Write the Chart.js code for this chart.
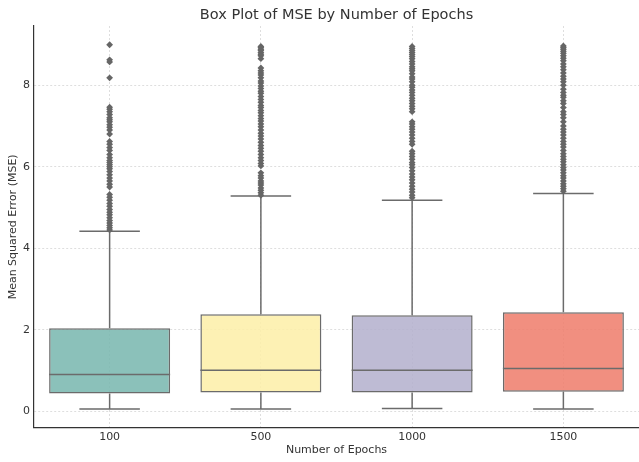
<!DOCTYPE html>
<html>
<head>
<meta charset="utf-8">
<script src="https://cdn.jsdelivr.net/npm/chart.js@4/dist/chart.umd.min.js"></script>
<style>
  html, body { margin: 0; padding: 0; background: #ffffff; overflow: hidden; }
  #wrap { width: 639px; height: 462px; overflow: hidden; }
  canvas { display: block; }
</style>
</head>
<body>
<div id="wrap"><canvas id="chart" width="643" height="462"></canvas></div>
<script>
// Box statistics per epoch setting
const categories = ['100', '500', '1000', '1500'];
const q1 = [0.44, 0.465, 0.465, 0.48];
const median = [0.905, 1.01, 1.01, 1.05];
const q3 = [2.04, 2.38, 2.36, 2.43];
const whiskerLow = [0.06, 0.06, 0.07, 0.06];
const whiskerHigh = [4.42, 5.28, 5.18, 5.34];
const yTicks = [0, 2, 4, 6, 8];

// Points beyond the upper whisker
const outliers100 = [8.99, 8.62, 8.57, 8.18, 7.46, 7.41, 7.35, 7.28, 7.2, 7.15, 7.1, 7.03, 6.97, 6.9,
  6.8, 6.62, 6.55, 6.47, 6.4, 6.3, 6.22, 6.15, 6.1, 6.05, 6.0, 5.95, 5.88, 5.8, 5.72, 5.65, 5.57,
  5.5, 5.32, 5.25, 5.18, 5.1, 5.03, 4.95, 4.88, 4.82, 4.75, 4.68, 4.62, 4.56, 4.5, 4.45];
const outliers500 = [8.95, 8.92, 8.88, 8.85, 8.8, 8.76, 8.72, 8.65, 8.42, 8.35, 8.3, 8.25, 8.18, 8.1,
  8.05, 7.98, 7.92, 7.85, 7.8, 7.72, 7.65, 7.58, 7.5, 7.45, 7.38, 7.32, 7.25, 7.18, 7.12, 7.05, 6.98,
  6.9, 6.82, 6.75, 6.68, 6.6, 6.52, 6.45, 6.38, 6.3, 6.22, 6.15, 6.08, 6.02, 5.85, 5.78, 5.72, 5.65,
  5.6, 5.55, 5.48, 5.42, 5.36, 5.3];
const outliers1000 = [8.95, 8.9, 8.85, 8.8, 8.75, 8.7, 8.65, 8.58, 8.52, 8.45, 8.4, 8.35, 8.28, 8.2,
  8.15, 8.08, 8.0, 7.95, 7.88, 7.82, 7.75, 7.68, 7.62, 7.55, 7.48, 7.42, 7.35, 7.1, 7.05, 6.98, 6.92,
  6.85, 6.78, 6.7, 6.62, 6.55, 6.38, 6.32, 6.25, 6.18, 6.1, 6.05, 5.98, 5.9, 5.82, 5.75, 5.68, 5.6,
  5.52, 5.45, 5.38, 5.3, 5.24];
const outliers1500 = [8.96, 8.92, 8.88, 8.83, 8.78, 8.72, 8.66, 8.6, 8.52, 8.45, 8.38, 8.3, 8.22,
  8.15, 8.08, 8.0, 7.9, 7.82, 7.75, 7.7, 7.62, 7.55, 7.45, 7.35, 7.28, 7.2, 7.1, 7.0, 6.92, 6.85,
  6.78, 6.7, 6.62, 6.55, 6.48, 6.4, 6.32, 6.25, 6.18, 6.12, 6.05, 5.98, 5.92, 5.85, 5.78, 5.72,
  5.65, 5.58, 5.52, 5.46, 5.4];
const outlierLists = [outliers100, outliers500, outliers1000, outliers1500];

const boxColors = ['rgba(123,184,177,0.88)', 'rgba(253,239,170,0.88)', 'rgba(181,178,206,0.88)', 'rgba(239,128,110,0.88)'];
const lineColor = '#6b6b6b';
const textColor = '#333333';
const FONT = "'DejaVu Sans', sans-serif";

// Helpers that turn the statistics into line segments (null breaks the line)
function segments(pairsFn) {
  const pts = [];
  categories.forEach((_, i) => {
    pairsFn(i).forEach(seg => {
      pts.push(seg[0], seg[1], { x: seg[1].x, y: null });
    });
  });
  return pts;
}

const boxData = categories.map((_, i) => ({ x: i, y: [q1[i], q3[i]] }));
const medianData = segments(i => [[{ x: i - 0.4, y: median[i] }, { x: i + 0.4, y: median[i] }]]);
const whiskerData = segments(i => [
  [{ x: i, y: q3[i] }, { x: i, y: whiskerHigh[i] }],
  [{ x: i, y: q1[i] }, { x: i, y: whiskerLow[i] }],
  [{ x: i - 0.2, y: whiskerHigh[i] }, { x: i + 0.2, y: whiskerHigh[i] }],
  [{ x: i - 0.2, y: whiskerLow[i] }, { x: i + 0.2, y: whiskerLow[i] }]
]);
const outlierData = [];
outlierLists.forEach((list, i) => list.forEach(v => outlierData.push({ x: i, y: v })));

const lineDefaults = {
  type: 'line', borderColor: lineColor, borderWidth: 1.5, pointRadius: 0,
  spanGaps: false, fill: false, tension: 0
};

new Chart(document.getElementById('chart'), {
  type: 'bar',
  data: {
    datasets: [
      {
        type: 'bar', data: boxData, backgroundColor: boxColors, borderColor: lineColor,
        borderWidth: 1.5, borderSkipped: false, categoryPercentage: 0.8, barPercentage: 1.0, order: 3
      },
      Object.assign({ data: medianData, order: 2 }, lineDefaults),
      Object.assign({ data: whiskerData, order: 2 }, lineDefaults),
      {
        type: 'scatter', data: outlierData, pointStyle: 'rectRot', pointRadius: 3.4,
        backgroundColor: '#666666', borderColor: '#666666', borderWidth: 0, order: 1
      }
    ]
  },
  options: {
    responsive: false,
    animation: false,
    events: [],
    layout: { padding: { left: 0, right: 1.3, top: 0, bottom: 0 } },
    plugins: {
      legend: { display: false },
      tooltip: { enabled: false },
      title: {
        display: true, text: 'Box Plot of MSE by Number of Epochs', fullSize: false,
        color: textColor, font: { family: FONT, size: 14.5, weight: 'normal' },
        padding: { top: 6.6, bottom: 2 }
      }
    },
    scales: {
      x: {
        type: 'linear', min: -0.5, max: 3.5, offset: false,
        afterBuildTicks: s => { s.ticks = categories.map((_, i) => ({ value: i })); },
        afterFit: s => { s.height = 34.3; },
        ticks: {
          color: textColor, font: { family: FONT, size: 11 }, padding: 2.5,
          callback: v => categories[v]
        },
        grid: { color: '#d6d6d6', lineWidth: 0.8, drawTicks: false, tickLength: 0, offset: false },
        border: { display: true, color: '#333333', width: 1.2, dash: [2, 2] },
        title: {
          display: true, text: 'Number of Epochs', color: textColor,
          font: { family: FONT, size: 11 }, padding: { top: 2, bottom: 5 }
        }
      },
      y: {
        type: 'linear', min: -0.4, max: 9.45,
        afterBuildTicks: s => { s.ticks = yTicks.map(v => ({ value: v })); },
        afterFit: s => { s.width = 34; },
        ticks: { color: textColor, font: { family: FONT, size: 11 }, padding: 4 },
        grid: { color: '#d6d6d6', lineWidth: 0.8, drawTicks: false, tickLength: 0 },
        border: { display: true, color: '#333333', width: 1.2, dash: [2, 2] },
        title: {
          display: true, text: 'Mean Squared Error (MSE)', color: textColor,
          font: { family: FONT, size: 11 }, padding: { top: 7, bottom: 2 }
        }
      }
    }
  }
});
</script>
</body>
</html>
